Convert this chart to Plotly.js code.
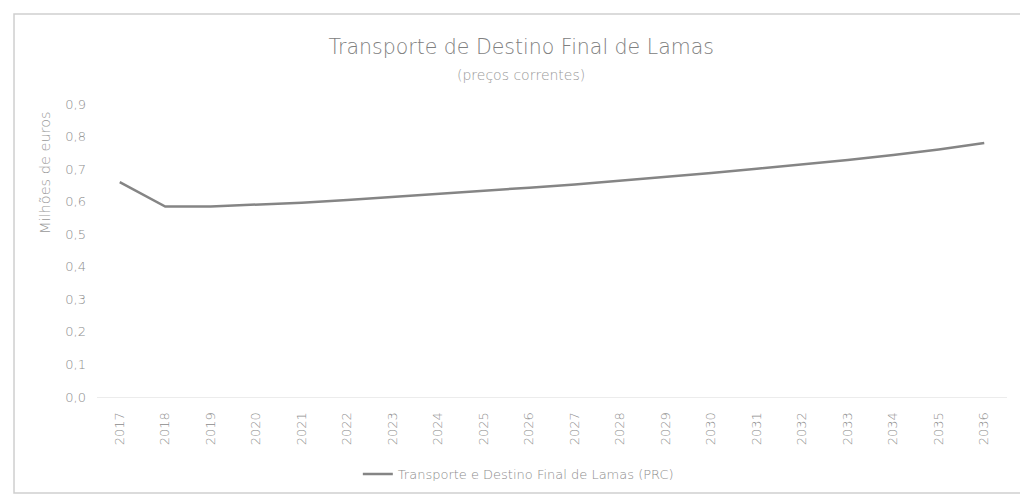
<!DOCTYPE html>
<html>
<head>
<meta charset="utf-8">
<script src="https://cdn.plot.ly/plotly-3.0.1.min.js"></script>
<style>html,body{margin:0;padding:0;background:#fff;}#chart{width:1020px;height:495px;}</style>
</head>
<body>
<div id="chart"></div>
<script>
const years = ["2017","2018","2019","2020","2021","2022","2023","2024","2025","2026","2027","2028","2029","2030","2031","2032","2033","2034","2035","2036"];
const values = [0.660,0.585,0.585,0.590,0.597,0.605,0.614,0.623,0.633,0.643,0.653,0.664,0.675,0.688,0.701,0.714,0.728,0.743,0.760,0.780];
const seriesName = "Transporte e Destino Final de Lamas (PRC)";
const yTicks = [0,0.1,0.2,0.3,0.4,0.5,0.6,0.7,0.8,0.9];
const yTickText = ["0,0","0,1","0,2","0,3","0,4","0,5","0,6","0,7","0,8","0,9"];

const font = "'DejaVu Sans', sans-serif";
const trace = {
  type: "scatter", mode: "lines", x: years, y: values, name: seriesName,
  line: {color: "#858585", width: 2.5}
};
const layout = {
  width: 1020, height: 495,
  margin: {l: 97, r: 13, t: 104, b: 98, autoexpand: false},
  paper_bgcolor: "#fff", plot_bgcolor: "#fff",
  font: {family: font, color: "#999", size: 11, weight: 200},
  title: {text: "Transporte de Destino Final de Lamas", x: 0.511, xanchor: "center", y: 0.905, yanchor: "middle",
          font: {family: font, size: 20.5, color: "#808080", weight: 200}},
  xaxis: {type: "category", tickangle: -90, showgrid: false, zeroline: false, showline: true, automargin: false,
          linecolor: "#ececec", linewidth: 1, ticks: "", tickfont: {family: font, size: 13, color: "#8c8c8c", weight: 200},
          ticklabelstandoff: 9, range: [-0.5, 19.5]},
  yaxis: {range: [0, 0.9], tickvals: yTicks, ticktext: yTickText, showgrid: false, zeroline: false, automargin: false,
          showline: false, ticks: "", tickfont: {family: font, size: 13, color: "#8c8c8c", weight: 200}, ticklabelstandoff: 10},
  showlegend: true,
  legend: {orientation: "h", x: 0.463, xanchor: "center", y: -0.263, yanchor: "middle",
           font: {family: font, size: 13, color: "#8c8c8c", weight: 200}},
  annotations: [
    {text: "(preços correntes)", xref: "paper", yref: "paper", x: 0.466, y: 1.099, showarrow: false,
     font: {family: font, size: 14, color: "#999", weight: 200}, xanchor: "center", yanchor: "middle"},
    {text: "Milhões de euros", xref: "paper", yref: "paper", x: -0.057, y: 0.765, textangle: -90, showarrow: false,
     font: {family: font, size: 14.5, color: "#999", weight: 200}, xanchor: "center", yanchor: "middle"}
  ],
  shapes: [
    {type: "rect", xref: "paper", yref: "paper", x0: -0.0912, x1: 1.02, y0: -0.328, y1: 1.307,
     line: {color: "#cfcfcf", width: 1.5}, fillcolor: "rgba(0,0,0,0)", layer: "below"}
  ]
};
Plotly.newPlot("chart", [trace], layout, {displayModeBar: false, staticPlot: true});
</script>
</body>
</html>
